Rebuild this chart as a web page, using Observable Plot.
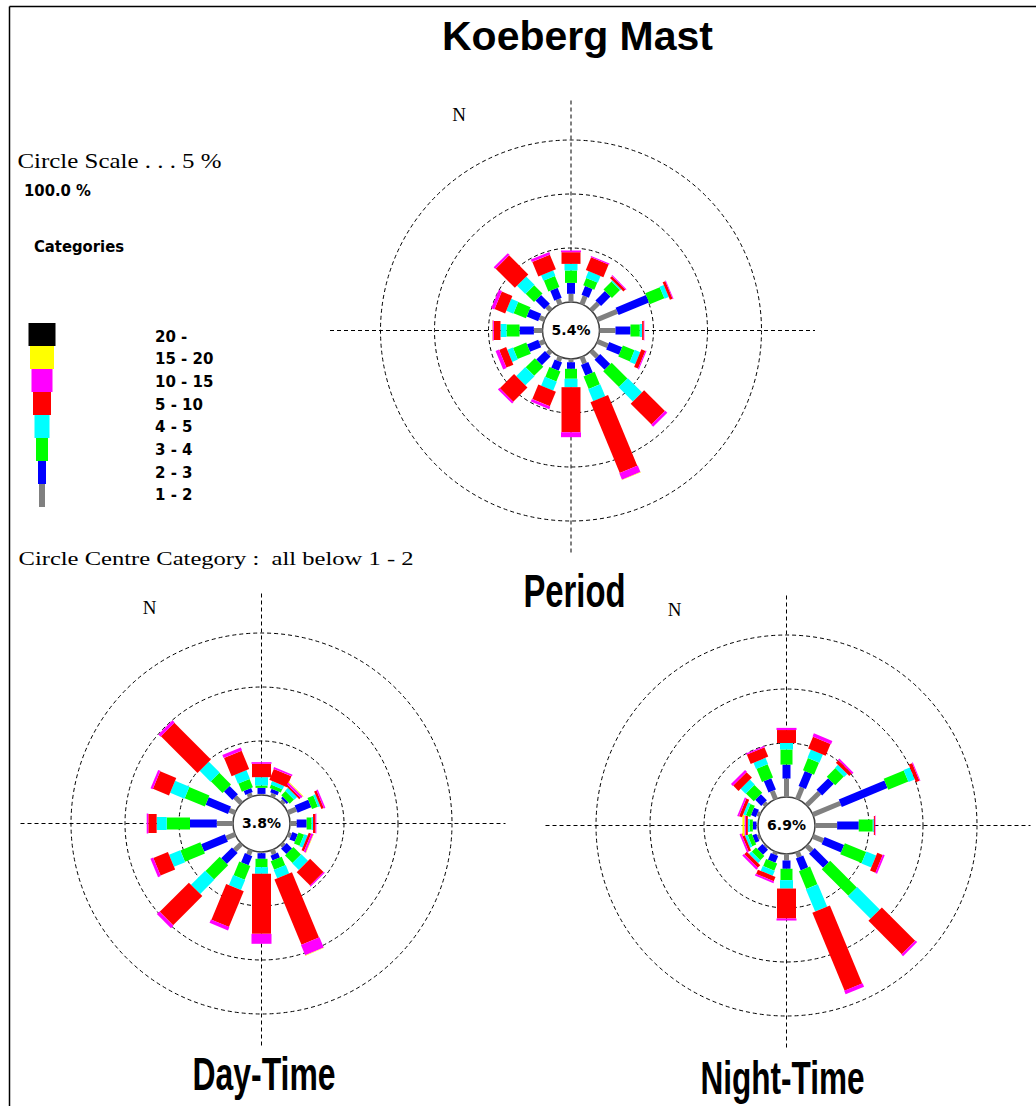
<!DOCTYPE html>
<html>
<head>
<meta charset="utf-8">
<script src="https://cdn.jsdelivr.net/npm/d3@7"></script>
<script src="https://cdn.jsdelivr.net/npm/@observablehq/plot@0.6"></script>
<style>
html, body { margin: 0; padding: 0; background: #fff; }
#chart svg { display: block; }
</style>
</head>
<body>
<div id="chart"></div>
<script>
// ---------------- DATA ----------------
const directions = ["N","NNE","NE","ENE","E","ESE","SE","SSE","S","SSW","SW","WSW","W","WNW","NW","NNW"];
const categories = ["1 - 2","2 - 3","3 - 4","4 - 5","5 - 10","10 - 15","15 - 20","20 -"];
const categoryColors = ["#808080","#0000ff","#00ff00","#00ffff","#ff0000","#ff00ff","#ffff00","#000000"];
const circleScalePct = [5, 10, 15];
const roseNames = ["Period", "Day-Time", "Night-Time"];
const calmPct = [5.4, 3.8, 6.9];

// frequency (%) per direction, per speed category (1-2, 2-3, 3-4, 4-5, 5-10, 10-15, 15-20, 20-)
const periodFreq = [
  [0.76,1.01,1.15,0.61,1.08,0.16,0,0],
  [0.79,0.88,0.72,0.68,1.27,0.11,0,0],
  [0.93,1.24,1.05,0.13,0.25,0.10,0,0],
  [1.98,3.05,1.46,0.42,0.27,0.07,0,0],
  [1.48,1.39,0.86,0.22,0.15,0.05,0,0],
  [1.04,1.29,1.17,0.55,0.40,0.10,0,0],
  [0.82,1.31,2.07,1.86,2.72,0.27,0,0],
  [0.66,1.07,1.26,1.21,7.08,0.65,0.03,0],
  [0.30,0.61,0.92,0.78,4.17,0.46,0,0],
  [0.41,0.84,1.00,0.89,1.46,0.26,0,0],
  [0.40,1.14,1.20,1.20,1.86,0.20,0,0],
  [0.50,1.12,1.32,0.56,0.70,0.34,0,0],
  [0.80,1.33,1.20,0.56,0.62,0.12,0.03,0],
  [0.50,1.15,1.24,0.71,1.06,0.32,0,0],
  [0.50,1.15,1.09,1.09,2.51,0.22,0,0],
  [0.50,1.00,1.09,0.55,1.46,0.25,0,0]
];
const dayFreq = [
  [0.10,0.56,0.22,0.77,1.24,0.15,0,0],
  [0.35,0.34,0.34,0.34,1.10,0.17,0,0],
  [0.30,0.21,0.55,0.37,0.17,0.22,0.08,0],
  [0.83,1.37,0.58,0.22,0.24,0.14,0,0],
  [0.62,0.92,0.46,0.13,0.24,0.07,0,0],
  [0.31,0.54,0.55,0.34,0.24,0.20,0.04,0],
  [0.29,0.70,0.99,0.87,1.75,0.12,0,0],
  [0.43,0.49,0.85,0.84,6.54,1.03,0.05,0],
  [0.11,0.52,0.77,0.62,5.56,0.92,0,0],
  [0.48,0.92,1.37,1.01,3.58,0.34,0,0],
  [0.86,1.42,1.86,1.85,3.82,0.33,0,0],
  [0.88,2.38,2.00,1.12,1.46,0.27,0,0],
  [1.50,2.48,2.16,0.93,0.77,0.15,0,0],
  [0.57,2.24,2.02,1.44,1.61,0.22,0,0],
  [0.82,1.09,1.53,1.42,4.80,0.28,0,0],
  [0.37,0.40,0.83,0.87,1.83,0.30,0,0]
];
const nightFreq = [
  [1.71,1.29,1.40,0.60,1.20,0.20,0,0],
  [1.17,1.51,1.21,0.83,1.18,0.32,0,0],
  [1.66,1.53,1.13,0.39,0.33,0.17,0,0],
  [2.75,4.58,2.01,0.63,0.35,0.08,0,0],
  [2.05,2.00,1.30,0.10,0.10,0.05,0,0],
  [1.03,1.95,2.14,0.98,0.54,0.18,0,0],
  [0.68,1.85,3.49,2.95,4.36,0.22,0,0],
  [0.51,1.20,1.78,2.25,7.81,0.35,0,0],
  [0.60,0.77,1.05,0.78,2.77,0.19,0,0],
  [0.26,0.69,0.71,0.49,0.43,0.18,0,0],
  [0.15,0.66,0.55,0.32,0.33,0.22,0,0],
  [0.23,0.40,0.40,0.25,0.24,0.17,0,0],
  [0.14,0.34,0.28,0.18,0.18,0.13,0.19,0],
  [0.28,0.49,0.44,0.25,0.29,0.17,0,0],
  [0.30,0.79,1.03,0.65,0.70,0.24,0,0],
  [0.81,1.14,1.32,0.63,0.94,0.12,0,0]
];
const roseFreqs = [periodFreq, dayFreq, nightFreq];

// ---------------- LAYOUT / STYLE ----------------
const W = 1036, H = 1106;
const holeR = 28.5, pxPerCircle = 54;
const barWidths = [5, 8, 12, 13, 19, 20, 21, 22];
const legendWidths = [6, 8, 12, 15, 18, 21, 24, 27];
const roseLayout = [
  {cx: 570.5, cy: 330, lx: 574, ly: 606},
  {cx: 261, cy: 823, lx: 263.5, ly: 1089},
  {cx: 786, cy: 825, lx: 782, ly: 1093}
];
const rScale = d3.scaleLinear().domain([0, circleScalePct[0]]).range([holeR, holeR + pxPerCircle]);

const serif = "'Liberation Serif', 'Times New Roman', serif";
const sansBold = "'DejaVu Sans', Verdana, sans-serif";
const narrow = "'Liberation Sans Narrow', 'Liberation Sans', Arial, sans-serif";

// ---------------- DERIVED ----------------
const segs = [];
const rings = [];
const axes = [];
const centres = [];
roseFreqs.forEach((freq, ri) => {
  const L = roseLayout[ri];
  centres.push({x: L.cx, y: L.cy, label: calmPct[ri].toFixed(1) + "%", name: roseNames[ri], lx: L.lx, ly: L.ly, nx: L.cx - 112, ny: L.cy - 210});
  circleScalePct.forEach(p => rings.push({x: L.cx, y: L.cy, r: rScale(p)}));
  axes.push({x1: L.cx - 241, y1: L.cy, x2: L.cx + 244, y2: L.cy});
  axes.push({x1: L.cx, y1: L.cy - 230, x2: L.cx, y2: L.cy + 222});
  freq.forEach((row, di) => {
    const a = di * 22.5 * Math.PI / 180, s = Math.sin(a), c = Math.cos(a);
    let cum = 0;
    row.forEach((v, k) => {
      if (v <= 0) return;
      const r0 = rScale(cum), r1 = rScale(cum + v);
      segs.push({x1: L.cx + r0 * s, y1: L.cy - r0 * c, x2: L.cx + r1 * s, y2: L.cy - r1 * c,
                 cat: categories[k], w: barWidths[k], dir: directions[di]});
      cum += v;
    });
  });
});

// legend
const legTop = 323, legStep = 23, legCx = 42;
const legendItems = categories.slice().reverse().map((cat, i) => {
  const k = categories.length - 1 - i;
  return {cat, x1: legCx - legendWidths[k] / 2, x2: legCx + legendWidths[k] / 2,
          y1: legTop + i * legStep, y2: legTop + (i + 1) * legStep,
          lx: 154.5, ly: 341 + i * 22.7};
});

const texts = {
  title: [{x: 577, y: 49, t: "Koeberg Mast"}],
  scale: [{x: 17, y: 167, t: "Circle Scale . . . " + circleScalePct[0] + " %"}],
  total: [{x: 23.5, y: 195, t: "100.0 %"}],
  cats: [{x: 33.5, y: 251, t: "Categories"}],
  centre: [{x: 18, y: 564, t: "Circle Centre Category :  all below " + categories[0]}]
};

const plot = Plot.plot({
  width: W, height: H, margin: 0,
  x: {domain: [0, W], range: [0, W], axis: null},
  y: {domain: [0, H], range: [0, H], axis: null},
  r: {type: "identity"},
  color: {domain: categories, range: categoryColors},
  style: {background: "white"},
  marks: [
    // frame
    Plot.link([{x1: 9, y1: 6, x2: 9, y2: H}, {x1: 9, y1: 6, x2: W, y2: 6}],
      {x1: "x1", y1: "y1", x2: "x2", y2: "y2", stroke: "black", strokeWidth: 1.5}),
    // crosshairs
    Plot.link(axes, {x1: "x1", y1: "y1", x2: "x2", y2: "y2", stroke: "black", strokeWidth: 1, strokeDasharray: "4,3"}),
    // circle scale rings
    Plot.dot(rings, {x: "x", y: "y", r: "r", stroke: "black", fill: "none", strokeWidth: 1, strokeDasharray: "4,3"}),
    // centre hole
    Plot.dot(centres, {x: "x", y: "y", r: holeR, fill: "white", stroke: "#404040", strokeWidth: 1.5}),
    // bars
    Plot.link(segs, {x1: "x1", y1: "y1", x2: "x2", y2: "y2", stroke: "cat", strokeWidth: "w", strokeLinecap: "butt"}),
    // centre labels
    Plot.text(centres, {x: "x", y: "y", text: "label", fontFamily: sansBold, fontWeight: "bold", fontSize: 14, fill: "black"}),
    // N labels
    Plot.text(centres, {x: "nx", y: "ny", text: () => "N", fontFamily: serif, fontSize: 19, fill: "black", lineAnchor: "bottom"}),
    // rose names
    Plot.text(centres, {x: "lx", y: "ly", text: "name", fontFamily: narrow, fontWeight: "bold", fontSize: 46, fill: "black", lineAnchor: "bottom"}),
    // title
    Plot.text(texts.title, {x: "x", y: "y", text: "t", fontFamily: "'Liberation Sans', Arial, sans-serif", fontWeight: "bold", fontSize: 40, fill: "black", lineAnchor: "bottom"}),
    Plot.text(texts.scale, {x: "x", y: "y", text: "t", fontFamily: serif, fontSize: 21, fill: "black", textAnchor: "start", lineAnchor: "bottom"}),
    Plot.text(texts.total, {x: "x", y: "y", text: "t", fontFamily: sansBold, fontWeight: "bold", fontSize: 15, fill: "black", textAnchor: "start", lineAnchor: "bottom"}),
    Plot.text(texts.cats, {x: "x", y: "y", text: "t", fontFamily: sansBold, fontWeight: "bold", fontSize: 15, fill: "black", textAnchor: "start", lineAnchor: "bottom"}),
    Plot.text(texts.centre, {x: "x", y: "y", text: "t", fontFamily: serif, fontSize: 19, fill: "black", textAnchor: "start", lineAnchor: "bottom"}),
    // legend
    Plot.rect(legendItems, {x1: "x1", x2: "x2", y1: "y1", y2: "y2", fill: "cat"}),
    Plot.text(legendItems, {x: "lx", y: "ly", text: "cat", fontFamily: sansBold, fontWeight: "bold", fontSize: 15, fill: "black", textAnchor: "start", lineAnchor: "bottom"})
  ]
});

// fit some texts to the widths seen in the original
const fitLengths = {
  "Koeberg Mast": 271, "Period": 102, "Day-Time": 143, "Night-Time": 164,
  "Circle Scale . . . 5 %": 204, "100.0 %": 67, "Categories": 90,
  "Circle Centre Category :  all below 1 - 2": 395
};
d3.select(plot).selectAll("text").each(function() {
  const L = fitLengths[this.textContent];
  if (L) d3.select(this).attr("textLength", L).attr("lengthAdjust", "spacingAndGlyphs");
});
d3.select(plot).selectAll("text").attr("xml:space", "preserve").style("white-space", "pre");

document.getElementById("chart").appendChild(plot);
</script>
</body>
</html>
